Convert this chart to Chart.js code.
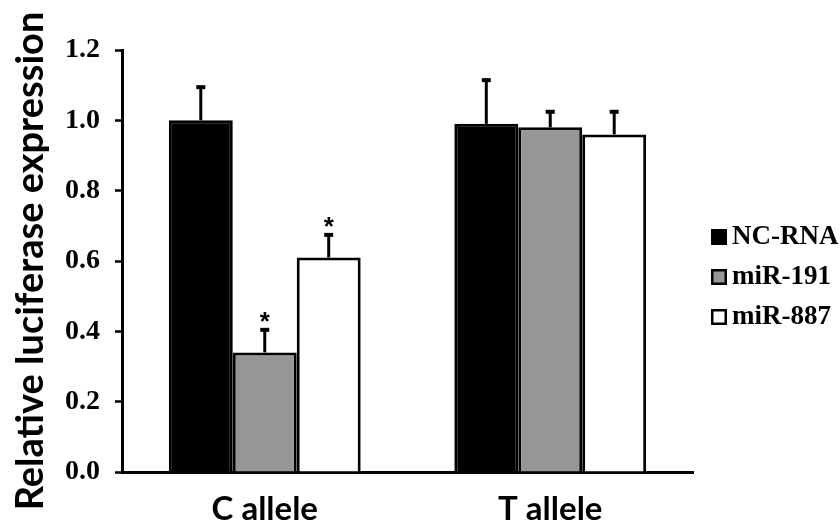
<!DOCTYPE html>
<html>
<head>
<meta charset="utf-8">
<title>Relative luciferase expression</title>
<script src="https://cdn.jsdelivr.net/npm/chart.js@4.4.1/dist/chart.umd.min.js"></script>
<style>
  html, body { margin: 0; padding: 0; background: #fff; }
  #chart { display: block; }
</style>
</head>
<body>
<canvas id="chart" width="840" height="525"></canvas>
<script>
// values
var alleles = ['C allele', 'T allele'];
var seriesNames = ['NC-RNA', 'miR-191', 'miR-887'];
var ncRna = [1.00, 0.99];
var mir191 = [0.34, 0.98];
var mir887 = [0.61, 0.96];
var ncRnaErr = [0.10, 0.13];
var mir191Err = [0.07, 0.05];
var mir887Err = [0.07, 0.07];
var mir191Sig = [true, false];
var mir887Sig = [true, false];
var yTicks = [0.0, 0.2, 0.4, 0.6, 0.8, 1.0, 1.2];

// upward error bars + significance stars
var errorBars = {
  id: 'errorBars',
  afterDatasetsDraw: function (chart) {
    var ctx = chart.ctx;
    var y = chart.scales.y;
    chart.data.datasets.forEach(function (ds, i) {
      var meta = chart.getDatasetMeta(i);
      meta.data.forEach(function (bar, j) {
        var top = y.getPixelForValue(ds.data[j] + ds.errors[j]);
        ctx.save();
        ctx.strokeStyle = '#000';
        ctx.lineWidth = 3;
        ctx.beginPath();
        ctx.moveTo(bar.x, bar.y);
        ctx.lineTo(bar.x, top + 2);
        ctx.stroke();
        ctx.lineWidth = 4;
        ctx.beginPath();
        ctx.moveTo(bar.x - 4.5, top + 2);
        ctx.lineTo(bar.x + 4.5, top + 2);
        ctx.stroke();
        if (ds.stars && ds.stars[j]) {
          ctx.fillStyle = '#000';
          ctx.font = 'bold 26px "Liberation Sans"';
          ctx.textAlign = 'center';
          ctx.textBaseline = 'alphabetic';
          ctx.fillText('*', bar.x, top + 2);
        }
        ctx.restore();
      });
    });
  }
};

// legend on the right, drawn next to the plot area
var sideLegend = {
  id: 'sideLegend',
  afterDraw: function (chart) {
    var ctx = chart.ctx;
    var area = chart.chartArea;
    var mid = (area.top + area.bottom) / 2 + 16;
    chart.data.datasets.forEach(function (ds, i) {
      var cy = mid + (i - 1) * 40;
      var bx = area.right + 18;
      ctx.save();
      ctx.fillStyle = ds.backgroundColor;
      ctx.fillRect(bx, cy - 8, 16, 16);
      ctx.strokeStyle = '#000';
      ctx.lineWidth = 2.5;
      ctx.strokeRect(bx + 1.25, cy - 6.75, 13.5, 13.5);
      ctx.fillStyle = '#000';
      ctx.font = 'bold 27px "Liberation Serif"';
      ctx.textAlign = 'left';
      ctx.textBaseline = 'middle';
      ctx.fillText(ds.label, bx + 21, cy);
      ctx.restore();
    });
  }
};

var ctx = document.getElementById('chart').getContext('2d');
new Chart(ctx, {
  type: 'bar',
  data: {
    labels: alleles,
    datasets: [
      {
        label: seriesNames[0],
        data: ncRna,
        errors: ncRnaErr,
        backgroundColor: '#000000',
        borderColor: '#000000',
        borderWidth: 3
      },
      {
        label: seriesNames[1],
        data: mir191,
        errors: mir191Err,
        stars: mir191Sig,
        backgroundColor: '#969696',
        borderColor: '#000000',
        borderWidth: 3
      },
      {
        label: seriesNames[2],
        data: mir887,
        errors: mir887Err,
        stars: mir887Sig,
        backgroundColor: '#ffffff',
        borderColor: '#000000',
        borderWidth: 3
      }
    ]
  },
  options: {
    responsive: false,
    animation: false,
    layout: { padding: { left: 0, top: 50, right: 147, bottom: 0 } },
    datasets: {
      bar: { barPercentage: 1.0, categoryPercentage: 0.672 }
    },
    plugins: {
      legend: { display: false },
      tooltip: { enabled: false }
    },
    scales: {
      x: {
        grid: { display: false },
        border: { display: true, color: '#000', width: 3 },
        ticks: {
          color: '#000',
          padding: 10,
          font: { family: 'Lato', weight: 'bold', size: 33 }
        },
        afterFit: function (scale) { scale.height = 53; }
      },
      y: {
        min: 0,
        max: 1.2,
        afterBuildTicks: function (axis) {
          axis.ticks = yTicks.map(function (v) { return { value: v }; });
        },
        grid: {
          drawOnChartArea: false,
          drawTicks: true,
          tickLength: 7,
          tickWidth: 2.5,
          tickColor: '#000'
        },
        border: { display: true, color: '#000', width: 3 },
        ticks: {
          color: '#000',
          padding: 15,
          font: { family: 'Liberation Serif', weight: 'bold', size: 28 },
          callback: function (v) { return Number(v).toFixed(1); }
        },
        title: {
          display: true,
          text: 'Relative luciferase expression',
          color: '#000',
          padding: { top: 8, bottom: 0 },
          font: { family: 'Lato', weight: 'bold', size: 38 }
        },
        afterFit: function (scale) { scale.width = 122; }
      }
    }
  },
  plugins: [errorBars, sideLegend]
});
</script>
</body>
</html>
